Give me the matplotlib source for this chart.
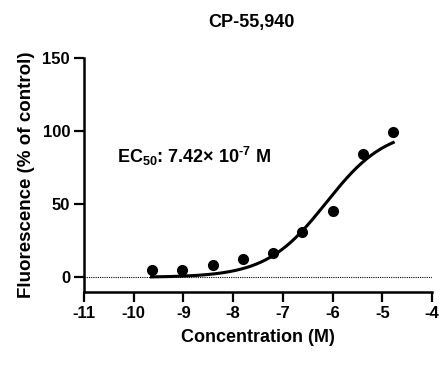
import numpy as np
import matplotlib
matplotlib.use("Agg")
import matplotlib.pyplot as plt

plt.rcParams["font.family"] = ["Liberation Sans", "DejaVu Sans"]
plt.rcParams["font.weight"] = "bold"
plt.rcParams["axes.unicode_minus"] = False
plt.rcParams["mathtext.fontset"] = "custom"
plt.rcParams["mathtext.rm"] = "Liberation Sans:bold"
plt.rcParams["mathtext.bf"] = "Liberation Sans:bold"
plt.rcParams["mathtext.default"] = "rm"

# log10 concentration (M) and response (% of control)
log_conc = [-9.64, -9.02, -8.41, -7.81, -7.20, -6.62, -5.99, -5.39, -4.78]
response = [5.3, 5.3, 8.3, 12.4, 16.3, 30.7, 45.4, 84.4, 99.3]

# 4-parameter logistic fit
bottom, top = 0.0, 102.0
log_ec50 = np.log10(7.42e-7)
hill = 0.72

x_ticks = [-11, -10, -9, -8, -7, -6, -5, -4]
y_ticks = [0, 50, 100, 150]

xfit = np.linspace(min(log_conc), max(log_conc), 200)
yfit = bottom + (top - bottom) / (1 + 10 ** ((log_ec50 - xfit) * hill))

fig = plt.figure(figsize=(4.44, 3.71), dpi=100)
ax = fig.add_axes([0.189, 0.213, 0.784, 0.631])

ax.axhline(0, color="black", linestyle=(0, (1, 1)), linewidth=0.8)
ax.plot(xfit, yfit, color="black", linewidth=2.2)
ax.plot(log_conc, response, "o", color="black", markersize=7)

ax.set_xlim(-11, -4)
ax.set_ylim(-10, 150)
ax.set_xticks(x_ticks)
ax.set_yticks(y_ticks)
ax.spines["top"].set_visible(False)
ax.spines["right"].set_visible(False)
for s in ["left", "bottom"]:
    ax.spines[s].set_linewidth(1.8)
ax.tick_params(direction="out", length=7, width=1.6, labelsize=12, pad=3)

ax.set_xlabel("Concentration (M)", fontsize=13, fontweight="bold", labelpad=6)
ax.set_ylabel("Fluorescence (% of control)", fontsize=13.5, fontweight="bold", labelpad=5)
ax.set_title("CP-55,940", fontsize=13, fontweight="bold", pad=22, x=0.48)

ax.text(-10.33, 82.5, "EC$_{50}$: 7.42× 10$^{\u2010 7}$ M", fontsize=13,
        fontweight="bold", va="center", ha="left")

fig.savefig("out.png", dpi=100)
